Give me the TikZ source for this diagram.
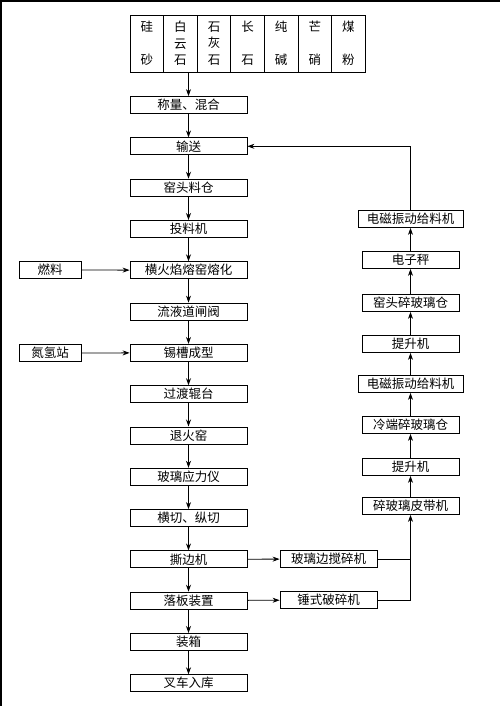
\documentclass[tikz,border=0pt]{standalone}
\usepackage{fontspec}
\newfontfamily\cjk{Noto Sans CJK SC}
\usepackage{tikz}
\usetikzlibrary{arrows.meta,positioning}
\tikzset{
  proc/.style = {draw, line width=0.8pt, minimum width=117pt, minimum height=17pt,
                 inner sep=0pt, font=\cjk\fontsize{12.5}{14}\selectfont},
  side/.style = {proc, minimum width=62pt},
  rec/.style  = {proc, minimum width=97pt},
  recw/.style = {proc, minimum width=105pt},
  raw/.style  = {draw, line width=0.8pt, minimum width=33.6pt, minimum height=57pt,
                 inner sep=0pt, align=center, font=\cjk\fontsize{12.5}{16.5}\selectfont},
  flow/.style = {-{Stealth[length=7pt,width=5pt]}, line width=0.8pt},
}

\begin{document}
\begin{tikzpicture}[x=1pt, y=-1pt]
\useasboundingbox (0,0) rectangle (500,706);
\draw[line width=2pt] (0,1) -- (500,1);
\draw[line width=2.5pt] (1,0) -- (1,706);
% raw materials
\foreach \a/\b/\c [count=\i] in {硅//砂, 白/云/石, 石/灰/石, 长//石, 纯//碱, 芒//硝, 煤//粉}
  \node[raw] (r\i) at (113.2+33.6*\i, 43.5) {\a\\\b\\\c};
% main line
\foreach \n/\t [count=\i] in {mix/称量、混合, conv/输送, bin/窑头料仓, feed/投料机,
    melt/横火焰熔窑熔化, chan/流液道闸阀, tin/锡槽成型, roll/过渡辊台, anneal/退火窑,
    stress/玻璃应力仪, cut/横切、纵切, edge/撕边机, drop/落板装置, pack/装箱, fork/叉车入库}
  \node[proc] (\n) at (188.5, 63.7+41.3*\i) {\t};
\draw[flow] (r2.south -| mix.north) -- (mix.north);
\foreach \u/\v in {mix/conv, conv/bin, bin/feed, feed/melt, melt/chan, chan/tin, tin/roll,
    roll/anneal, anneal/stress, stress/cut, cut/edge, edge/drop, drop/pack, pack/fork}
  \draw[flow] (\u) -- (\v);
% inputs
\node[side] (fuel) at (50, 270) {燃料};
\node[side] (gas) at (50, 353) {氮氢站};
\draw[flow] (fuel) -- (melt);
\draw[flow] (gas) -- (tin);
% cullet return
\node[rec] (crush1) at (328.5, 559) {玻璃边搅碎机};
\node[rec] (crush2) at (328.5, 600) {锤式破碎机};
\node[rec]  (belt)  at (410.5, 506) {碎玻璃皮带机};
\node[rec]  (lift1) at (410.5, 467) {提升机};
\node[rec]  (cold)  at (410.5, 425) {冷端碎玻璃仓};
\node[recw] (vib1)  at (410.5, 384) {电磁振动给料机};
\node[rec]  (lift2) at (410.5, 344) {提升机};
\node[rec]  (hot)   at (410.5, 303) {窑头碎玻璃仓};
\node[rec]  (scale) at (410.5, 260) {电子秤};
\node[recw] (vib2)  at (410.5, 219) {电磁振动给料机};
\draw[flow] (edge) -- (crush1);
\draw[flow] (drop) -- (crush2);
\draw[line width=0.8pt] (crush1.east) -- (crush1 -| belt);
\draw[flow] (crush2.east) -| (belt.south);
\foreach \u/\v in {belt/lift1, lift1/cold, cold/vib1, vib1/lift2, lift2/hot, hot/scale, scale/vib2}
  \draw[flow] (\u) -- (\v);
\draw[flow] (vib2.north) |- (conv.east);
\end{tikzpicture}
\end{document}
